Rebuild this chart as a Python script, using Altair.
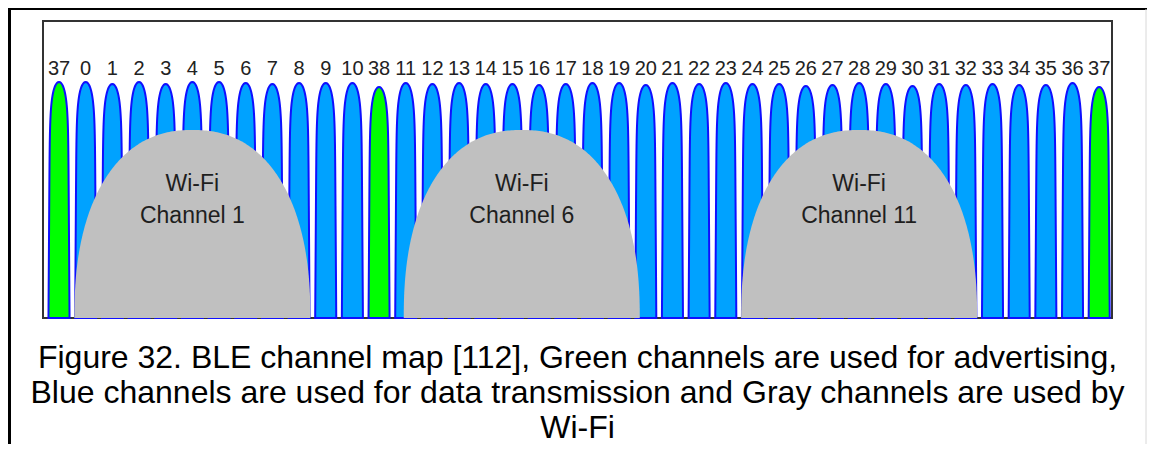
import altair as alt
import numpy as np
import pandas as pd

# ---------------- data ----------------
ble_labels = ["37", "0", "1", "2", "3", "4", "5", "6", "7", "8", "9", "10", "38",
              "11", "12", "13", "14", "15", "16", "17", "18", "19", "20", "21", "22",
              "23", "24", "25", "26", "27", "28", "29", "30", "31", "32", "33", "34",
              "35", "36", "37"]
ble_freq_mhz = [2402, 2404, 2406, 2408, 2410, 2412, 2414, 2416, 2418, 2420,
                2422, 2424, 2426, 2428, 2430, 2432, 2434, 2436, 2438, 2440,
                2442, 2444, 2446, 2448, 2450, 2452, 2454, 2456, 2458, 2460,
                2462, 2464, 2466, 2468, 2470, 2472, 2474, 2476, 2478, 2480]
ble_role = ["adv"] + ["data"] * 11 + ["adv"] + ["data"] * 26 + ["adv"]
ble_peak = [236, 236, 234, 236, 234, 236, 236, 235, 234, 235,
            235, 235, 231, 235, 234, 235, 234, 234, 233, 234,
            235, 235, 233, 235, 234, 235, 234, 234, 232, 233,
            235, 234, 232, 234, 233, 234, 233, 233, 235, 231]

wifi_title = ["Wi-Fi", "Wi-Fi", "Wi-Fi"]
wifi_names = ["Channel 1", "Channel 6", "Channel 11"]
wifi_center_mhz = [2412.0, 2436.7, 2462.0]
wifi_peak = [188, 188, 188]

caption_lines = [
    "Figure 32. BLE channel map [112], Green channels are used for advertising,",
    "Blue channels are used for data transmission and Gray channels are used by",
    "Wi-Fi",
]

# ---------------- shapes (drawing style) ----------------
BLE_HALF = 0.79   # MHz, half width of a BLE lobe at its foot
WIFI_HALF = 8.85  # MHz, half width of a Wi-Fi hump at its foot

t = np.linspace(0.0, 1.0, 70) ** 1.6
w = 0.85 * np.sqrt(1 - (1 - t) ** 12) + 0.15 * t
rows = []
for i, (f, role, h) in enumerate(zip(ble_freq_mhz, ble_role, ble_peak)):
    for tt, ww in zip(t[::-1], w[::-1]):
        rows.append({"ch": i, "role": role, "x": f - BLE_HALF * ww, "y": h * (1 - tt)})
    for tt, ww in zip(t[1:], w[1:]):
        rows.append({"ch": i, "role": role, "x": f + BLE_HALF * ww, "y": h * (1 - tt)})
peaks_df = pd.DataFrame(rows)

theta = np.linspace(np.pi, 0, 200)
u = np.cos(theta)
p = 2.3
prof = (1 - np.abs(u) ** p) ** (1 / p)
hrows = []
for name, c, h in zip(wifi_names, wifi_center_mhz, wifi_peak):
    for uu, pp in zip(u, prof):
        hrows.append({"name": name, "x": c + WIFI_HALF * uu, "y": h * pp})
hump_df = pd.DataFrame(hrows)

labels_df = pd.DataFrame({"label": ble_labels, "x": ble_freq_mhz})
wifi_df = pd.DataFrame({"t1": wifi_title, "t2": wifi_names, "x": wifi_center_mhz})

xscale = alt.Scale(domain=[2400.8, 2480.96], zero=False, nice=False)
yscale = alt.Scale(domain=[0, 297], zero=False, nice=False)

SANS = "Liberation Sans, Arial, sans-serif"

peaks = alt.Chart(peaks_df).mark_area(
    orient="vertical", stroke="#0f0fff", strokeWidth=2, fillOpacity=1
).encode(
    x=alt.X("x:Q", scale=xscale, axis=None),
    y=alt.Y("y:Q", scale=yscale, axis=None, stack=None),
    detail="ch:N",
    fill=alt.Fill("role:N", scale=alt.Scale(domain=["adv", "data"],
                                            range=["#00ff00", "#00a2ff"]), legend=None),
)

humps = alt.Chart(hump_df).mark_area(orient="vertical", fill="#c0c0c0",
                                     fillOpacity=1).encode(
    x=alt.X("x:Q", scale=xscale, axis=None),
    y=alt.Y("y:Q", scale=yscale, axis=None, stack=None),
    detail="name:N",
)

wifi_t1 = alt.Chart(wifi_df).mark_text(font=SANS, fontSize=23, color="#1e1e1e",
                                       baseline="alphabetic").encode(
    x=alt.X("x:Q", scale=xscale), y=alt.value(170), text="t1:N")
wifi_t2 = alt.Chart(wifi_df).mark_text(font=SANS, fontSize=23, color="#1e1e1e",
                                       baseline="alphabetic").encode(
    x=alt.X("x:Q", scale=xscale), y=alt.value(202), text="t2:N")

ch_labels = alt.Chart(labels_df).mark_text(font=SANS, fontSize=20, color="#222222",
                                           baseline="alphabetic").encode(
    x=alt.X("x:Q", scale=xscale), y=alt.value(54), text="label:N")

one = pd.DataFrame({"k": [0]})
caption = alt.Chart(one).mark_text(font=SANS, fontSize=32,
                                   lineHeight=35, baseline="top", color="#000000").encode(
    x=alt.value(534.5), y=alt.value(322), text=alt.value(caption_lines))

left_frame = alt.Chart(one).mark_rule(color="#000000", strokeWidth=3).encode(
    x=alt.value(-33.5), y=alt.value(-12), y2=alt.value(423))
top_frame = alt.Chart(one).mark_rule(color="#000000", strokeWidth=2).encode(
    x=alt.value(-35), x2=alt.value(1104), y=alt.value(-12))
right_frame = alt.Chart(one).mark_rule(color="#d8d8d8", strokeWidth=1).encode(
    x=alt.value(1103), y=alt.value(-12), y2=alt.value(423))

chart = alt.layer(
    peaks, humps, wifi_t1, wifi_t2, ch_labels, caption, left_frame, top_frame, right_frame
).properties(
    width=1069, height=297,
    autosize=alt.AutoSizeParams(type="none"),
    padding={"left": 35, "top": 13, "right": 35, "bottom": 126},
    background="#ffffff",
).configure_view(stroke="#333333", strokeWidth=2)

chart.save("out.html", embed_options={"renderer": "svg", "actions": False})
